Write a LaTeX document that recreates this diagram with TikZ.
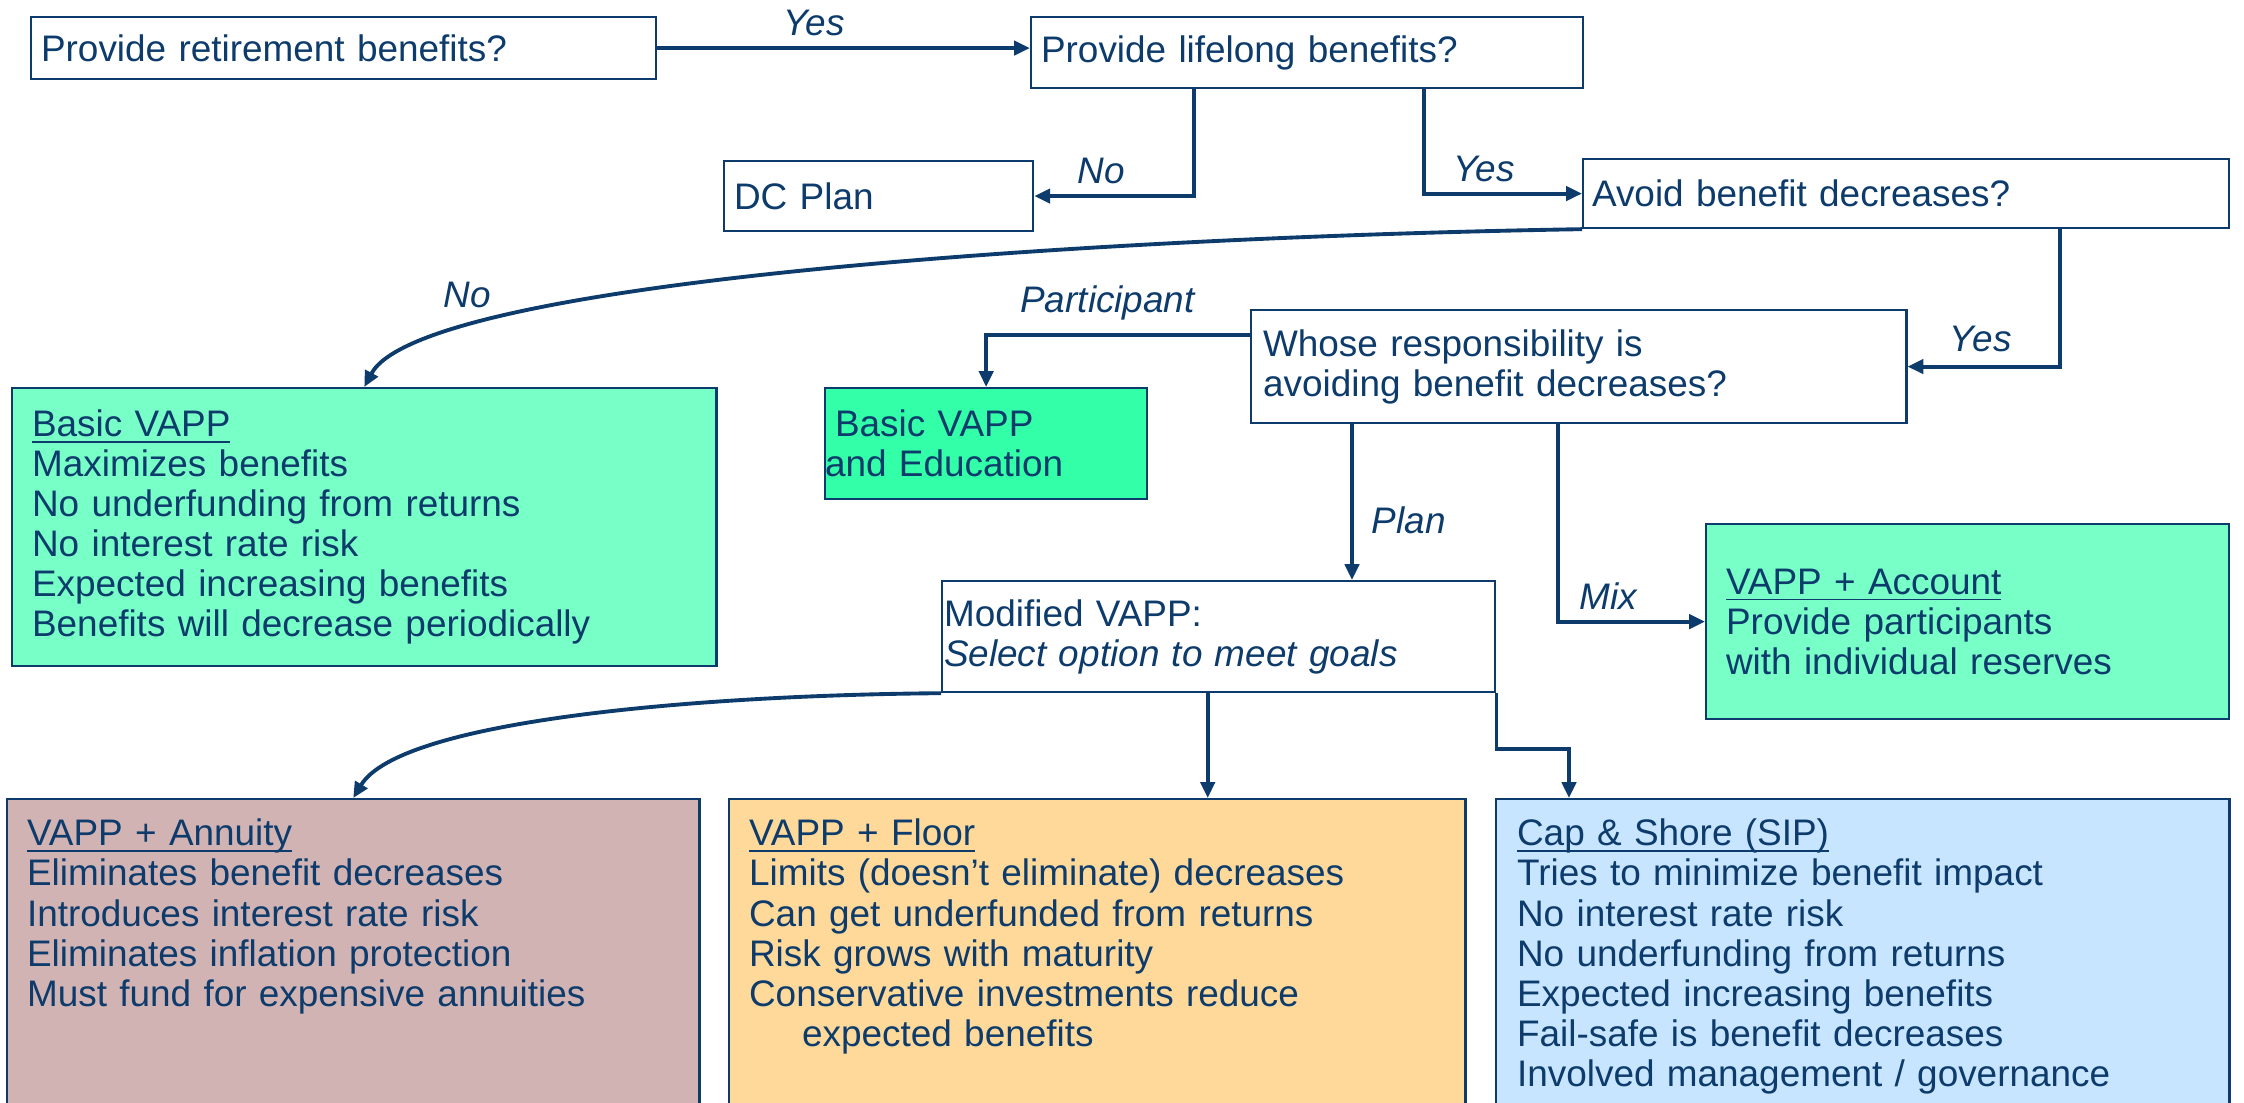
\documentclass[tikz,border=0pt]{standalone}
\usepackage{amsmath}
\usepackage{fontspec}
\setmainfont{Liberation Sans}
\usetikzlibrary{arrows.meta}
\usetikzlibrary{positioning}
\definecolor{navy}{HTML}{0D3B6B}
\definecolor{mint}{HTML}{78FFC8}
\definecolor{seagreen}{HTML}{33FFA8}
\definecolor{rosy}{HTML}{D2B3B3}
\definecolor{sand}{HTML}{FFD999}
\definecolor{skyblue}{HTML}{C7E5FF}
\newcommand{\headline}[1]{\underline{\smash[b]{#1}}} % underline that keeps the line pitch

\begin{document}
\begin{tikzpicture}[
			x=0.01cm, y=-0.01cm, % one unit = one pixel, y runs downwards
			>={Triangle[length=4.5pt,width=4pt]},
			font=\fontsize{10.5}{11.4}\selectfont, text=navy,
			qbox/.style={draw=navy, line width=0.6pt, anchor=north west, align=left,
					inner xsep=0.1cm, inner ysep=0pt}, % question / outcome box
			optbox/.style={qbox, inner xsep=0.2cm, inner ysep=0.2cm, text depth=3cm}, % option box, cut by the page edge
			link/.style={draw=navy, line width=1.1pt, ->},
			lbl/.style={font=\fontsize{10.5}{11.4}\selectfont\itshape, inner sep=0pt},
		]
		\useasboundingbox (0,0) rectangle (2244,1102);
		\clip (0,0) rectangle (2244,1102);

		% --- the questions
		\node[qbox, text width=6.05cm, minimum height=0.62cm] (q1) at (30,16) {Provide retirement benefits?};
		\node[qbox, text width=5.32cm, minimum height=0.71cm] (q2) at (1030,16) {Provide lifelong benefits?};
		\node[qbox, text width=2.89cm, minimum height=0.70cm] (dc) at (723,160) {DC Plan};
		\node[qbox, inner xsep=0.09cm, text width=6.28cm, minimum height=0.69cm] (q3) at (1582,158) {Avoid benefit decreases?};
		\node[qbox, inner xsep=0.12cm, text width=6.31cm, minimum height=1.13cm] (who) at (1250,309)
		{Whose responsibility is\\avoiding benefit decreases?};

		% --- outcomes of the middle row
		\node[qbox, fill=mint, inner xsep=0.2cm, text width=6.64cm, minimum height=2.78cm] (basic) at (11,387)
		{\headline{Basic VAPP}\\Maximizes benefits\\No underfunding from returns\\No interest rate risk\\Expected increasing benefits\\Benefits will decrease periodically};
		\node[qbox, fill=seagreen, inner xsep=0pt, text width=3.22cm, minimum height=1.11cm] (edu) at (824,387)
		{\hspace*{0.1cm}Basic VAPP\\and Education};
		\node[qbox, inner xsep=0.02cm, text width=5.49cm, minimum height=1.11cm] (mod) at (941,580)
		{Modified VAPP:\\\textit{Select option to meet goals}};
		\node[qbox, fill=mint, inner xsep=0.2cm, text width=4.83cm, minimum height=1.95cm] (acc) at (1705,523)
		{\headline{VAPP + Account}\\Provide participants\\with individual reserves};

		% --- the three options along the bottom
		\node[optbox, fill=rosy, text width=6.52cm] (ann) at (6,798)
		{\headline{VAPP + Annuity}\\Eliminates benefit decreases\\Introduces interest rate risk\\Eliminates inflation protection\\Must fund for expensive annuities};
		\node[optbox, fill=sand, text width=6.96cm] (flo) at (728,798)
		{\headline{VAPP + Floor}\\Limits (doesn’t eliminate) decreases\\Can get underfunded from returns\\Risk grows with maturity\\Conservative investments reduce\\\hspace*{0.53cm}expected benefits};
		\node[optbox, fill=skyblue, inner xsep=0.21cm, text width=6.91cm] (cap) at (1495,798)
		{\headline{Cap \& Shore (SIP)}\\Tries to minimize benefit impact\\No interest rate risk\\No underfunding from returns\\Expected increasing benefits\\Fail-safe is benefit decreases\\Involved management / governance};

		% --- drop points on the box edges
		\coordinate (planTop) at ([shift={(102,0)}]who.south west);
		\coordinate (mixTop) at ([shift={(308,0)}]who.south west);
		\coordinate (floorTop) at ([shift={(-11,0)}]mod.south);

		% --- answers
		\draw[link] (q1.east) -- (q1.east -| q2.west) node[lbl, pos=0.42, above=0.1cm] {Yes};
		\draw[link] ([shift={(164,0)}]q2.south west) |- (dc.east) node[lbl, pos=0.79, above=0.1cm] {No};
		\draw[link] ([shift={(394,0)}]q2.south west) |- (q3.west) node[lbl, pos=0.69, above=0.1cm] {Yes};
		\draw[link] ([shift={(478,0)}]q3.south west) |- (who.east) node[lbl, pos=0.76, above=0.13cm] {Yes};
		\draw[link] (q3.south west) .. controls +(-482,8) and +(57,-107) .. (basic.north)
		node[lbl, pos=0.75, above left=0.09cm and 0.18cm] {No};
		\draw[link] ([shift={(0,26)}]who.north west) -| (edu.north) node[lbl, pos=0.27, above=0.13cm] {Participant};
		\draw[link] (planTop) -- (planTop |- mod.north) node[lbl, pos=0.62, right=0.18cm] {Plan};
		\draw[link] (mixTop) |- (acc.west) node[lbl, pos=0.67, above=0.1cm] {Mix};

		% --- from the modified plan to its options
		\draw[link] (mod.south west) .. controls +(-241,2) and +(47,-78) .. (ann.north);
		\draw[link] (floorTop) -- (floorTop |- flo.north);
		\draw[link] (mod.south east) -- ++(0,56) -| ([shift={(74,0)}]cap.north west);
	\end{tikzpicture}
\end{document}
